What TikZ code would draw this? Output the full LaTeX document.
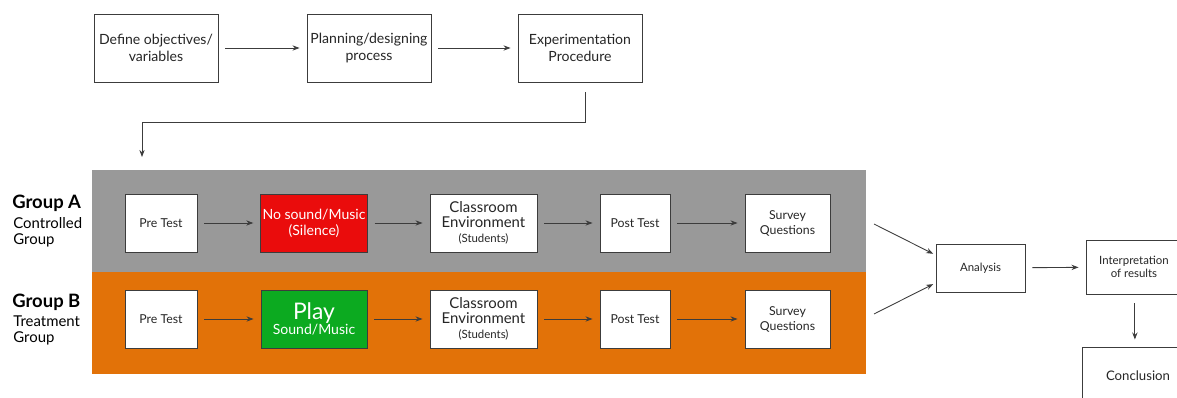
\documentclass[tikz,border=0pt]{standalone}
\usepackage{fontspec}
\setmainfont{Lato}
\usetikzlibrary{arrows.meta}
\definecolor{bandgrey}{RGB}{153,153,153}
\definecolor{bandorange}{RGB}{226,114,8}
\definecolor{silencered}{RGB}{234,12,12}
\definecolor{playgreen}{RGB}{12,170,32}
\definecolor{linegrey}{RGB}{60,60,60}
\begin{document}
\begin{tikzpicture}[x=0.02cm,y=-0.02cm,
  box/.style={draw=linegrey, line width=0.5pt, fill=white, align=center, inner sep=1pt, text=black!85},
  topbox/.style={box, minimum width=2.48cm, minimum height=1.36cm, font=\fontsize{8}{9.5}\selectfont},
  rowbox/.style={box, minimum height=1.16cm, font=\fontsize{7}{8.5}\selectfont},
  endbox/.style={box, font=\fontsize{6.5}{7.5}\selectfont},
  flow/.style={-{Stealth[length=4pt,width=3pt]}, draw=linegrey, line width=0.5pt, shorten <=4pt, shorten >=4pt},
  grouptitle/.style={anchor=west, inner sep=0pt, font=\bfseries\fontsize{10.5}{12}\selectfont},
  groupsub/.style={anchor=north west, align=left, inner sep=0pt, font=\fontsize{8.5}{9.2}\selectfont}]

\useasboundingbox (0,0) rectangle (1177,398);

% Planning row
\node[topbox] (def) at (156,48) {Define objectives/\\variables};
\node[topbox] (plan) at (369,48) {Planning/designing\\process};
\node[topbox] (exp) at (580,48) {Experimentation\\Procedure};
\draw[flow] (def) -- (plan);
\draw[flow] (plan) -- (exp);

% Down to the groups
\coordinate (bandin) at (142,157);
\draw[flow, shorten <=5.7pt, shorten >=0pt] ([xshift=3pt]exp.south) -- ++(0,40) -| (bandin);

% Bands
\fill[bandgrey] (92,170) rectangle (866,272);
\fill[bandorange] (92,272) rectangle (866,374);

% Group labels
\node[grouptitle] (titA) at (12,203) {Group A};
\node[groupsub] (subA) at (13,217) {Controlled\\Group};
\node[grouptitle] (titB) at (12,302) {Group B};
\node[groupsub] (subB) at (13,315) {Treatment\\Group};

% Group A row
\node[rowbox, minimum width=1.44cm] (preA) at (161,223) {Pre Test};
\node[rowbox, minimum width=2.12cm, fill=silencered, text=white, font=\fontsize{8}{9}\selectfont] (silA) at (314,223) {No sound/Music\\(Silence)};
\node[rowbox, minimum width=2.14cm, font=\fontsize{8.5}{8.5}\selectfont] (clsA) at (483.5,223) {Classroom\\Environment\\{\fontsize{6.5}{8}\selectfont(Students)}};
\node[rowbox, minimum width=1.40cm] (postA) at (635,223) {Post Test};
\node[rowbox, minimum width=1.70cm] (surA) at (787.5,223) {Survey\\Questions};

% Group B row
\node[rowbox, minimum width=1.44cm] (preB) at (161,319) {Pre Test};
\node[rowbox, minimum width=2.12cm, fill=playgreen, text=white, font=\fontsize{8}{9}\selectfont] (playB) at (314,319) {{\fontsize{13}{13}\selectfont Play}\\Sound/Music};
\node[rowbox, minimum width=2.14cm, font=\fontsize{8.5}{8.5}\selectfont] (clsB) at (483.5,319) {Classroom\\Environment\\{\fontsize{6.5}{8}\selectfont(Students)}};
\node[rowbox, minimum width=1.40cm] (postB) at (635,319) {Post Test};
\node[rowbox, minimum width=1.70cm] (surB) at (787.5,319) {Survey\\Questions};

\foreach \a/\b in {preA/silA, silA/clsA, clsA/postA, postA/surA,
                   preB/playB, playB/clsB, clsB/postB, postB/surB}
  \draw[flow] (\a) -- (\b);

% Results
\node[endbox, minimum width=1.78cm, minimum height=0.96cm] (ana) at (980.5,268) {Analysis};
\node[endbox, minimum width=1.92cm, minimum height=1.08cm] (interp) at (1134,267) {Interpretation\\of results};
\node[endbox, minimum width=2.24cm, minimum height=1.16cm, font=\fontsize{7.5}{9}\selectfont] (concl) at (1138,376) {Conclusion};

\coordinate (outA) at (874,224);
\coordinate (outB) at (874,314);
\draw[flow, shorten <=0pt, shorten >=1.5pt] (outA) -- ([yshift=7.4pt]ana.west);
\draw[flow, shorten <=0pt, shorten >=1.5pt] (outB) -- ([yshift=-8.5pt]ana.west);
\draw[flow] (ana) -- (interp);
\draw[flow, shorten <=5pt] ([xshift=0.5pt]interp.south) -- ([xshift=0.5pt]interp.south |- concl.north);

\end{tikzpicture}
\end{document}
